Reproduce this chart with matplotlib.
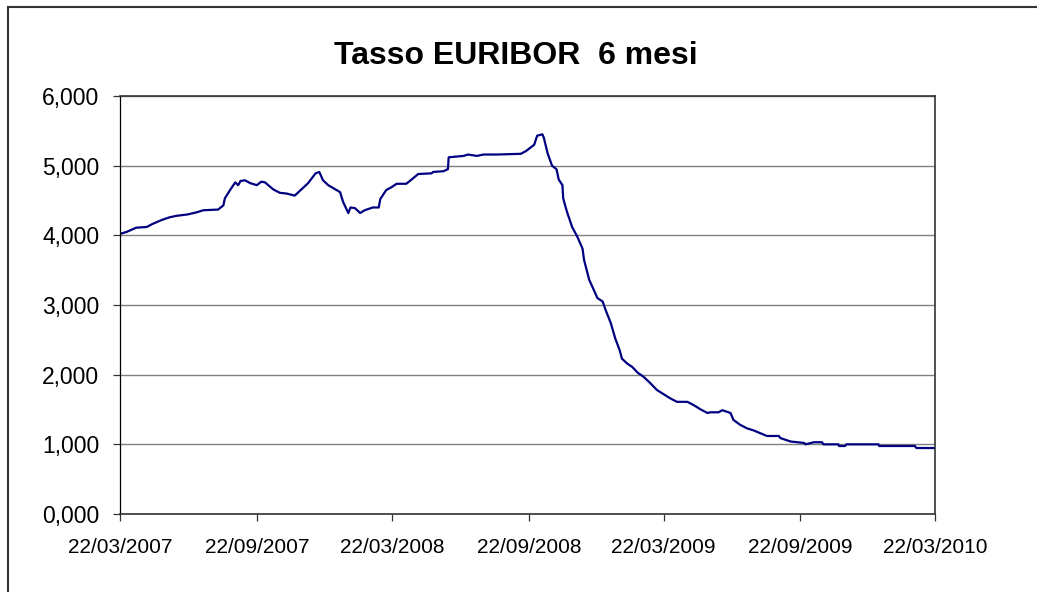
import matplotlib
matplotlib.use("Agg")
import matplotlib.pyplot as plt
import matplotlib.dates as mdates
from matplotlib.patches import Rectangle
from matplotlib.ticker import FuncFormatter, MultipleLocator
import numpy as np

plt.rcParams["font.family"] = ["Liberation Sans", "DejaVu Sans"]

# values
dates = [
    "2007-03-22", "2007-03-31", "2007-04-13", "2007-04-27", "2007-05-04",
    "2007-05-17", "2007-05-28", "2007-06-06", "2007-06-21", "2007-07-03",
    "2007-07-12", "2007-08-01", "2007-08-08", "2007-08-10", "2007-08-17",
    "2007-08-24", "2007-08-28", "2007-08-31", "2007-09-06", "2007-09-13",
    "2007-09-22", "2007-09-28", "2007-10-03", "2007-10-14", "2007-10-23",
    "2007-11-01", "2007-11-12", "2007-11-21", "2007-11-30", "2007-12-10",
    "2007-12-15", "2007-12-20", "2007-12-27", "2008-01-04", "2008-01-12",
    "2008-01-16", "2008-01-23", "2008-01-26", "2008-02-01", "2008-02-08",
    "2008-02-14", "2008-02-25", "2008-03-04", "2008-03-06", "2008-03-14",
    "2008-03-21", "2008-03-28", "2008-04-10", "2008-04-17", "2008-04-26",
    "2008-05-14", "2008-05-16", "2008-05-30", "2008-06-05", "2008-06-06",
    "2008-06-26", "2008-07-02", "2008-07-14", "2008-07-23", "2008-08-10",
    "2008-09-11", "2008-09-18", "2008-09-29", "2008-10-03", "2008-10-10",
    "2008-10-12", "2008-10-17", "2008-10-23", "2008-10-29", "2008-11-01",
    "2008-11-06", "2008-11-07", "2008-11-12", "2008-11-19", "2008-11-26",
    "2008-12-03", "2008-12-05", "2008-12-12", "2008-12-18", "2008-12-23",
    "2008-12-30", "2009-01-03", "2009-01-10", "2009-01-16", "2009-01-22",
    "2009-01-25", "2009-02-01", "2009-02-08", "2009-02-15", "2009-02-23",
    "2009-03-04", "2009-03-13", "2009-03-22", "2009-03-31", "2009-04-09",
    "2009-04-23", "2009-05-02", "2009-05-11", "2009-05-20", "2009-05-24",
    "2009-06-04", "2009-06-09", "2009-06-20", "2009-06-24", "2009-07-03",
    "2009-07-12", "2009-07-21", "2009-07-30", "2009-08-08", "2009-08-24",
    "2009-08-26", "2009-09-09", "2009-09-27", "2009-09-29", "2009-10-10",
    "2009-10-21", "2009-10-23", "2009-11-12", "2009-11-13", "2009-11-21",
    "2009-11-23", "2010-01-05", "2010-01-06", "2010-02-23", "2010-02-25",
    "2010-03-22",
]
euribor = [
    4.02, 4.05, 4.11, 4.12, 4.16,
    4.22, 4.26, 4.28, 4.30, 4.33,
    4.36, 4.37, 4.43, 4.53, 4.65,
    4.76, 4.72, 4.78, 4.79, 4.75,
    4.72, 4.77, 4.76, 4.66, 4.61,
    4.60, 4.57, 4.66, 4.75, 4.89,
    4.91, 4.79, 4.72, 4.67, 4.62,
    4.48, 4.32, 4.40, 4.39, 4.32,
    4.36, 4.40, 4.40, 4.52, 4.65,
    4.69, 4.74, 4.74, 4.80, 4.88,
    4.89, 4.91, 4.92, 4.95, 5.12,
    5.14, 5.16, 5.14, 5.16, 5.16,
    5.17, 5.21, 5.30, 5.43, 5.45,
    5.40, 5.18, 5.00, 4.95, 4.80,
    4.72, 4.53, 4.34, 4.12, 3.98,
    3.81, 3.65, 3.36, 3.22, 3.10,
    3.05, 2.93, 2.74, 2.52, 2.35,
    2.23, 2.16, 2.11, 2.03, 1.97,
    1.88, 1.78, 1.72, 1.66, 1.61,
    1.61, 1.56, 1.50, 1.45, 1.46,
    1.46, 1.49, 1.45, 1.35, 1.28,
    1.23, 1.20, 1.16, 1.12, 1.12,
    1.09, 1.04, 1.02, 1.00, 1.03,
    1.03, 1.00, 1.00, 0.976, 0.976,
    1.00, 1.00, 0.976, 0.976, 0.947,
    0.947,
]
tick_dates = ["2007-03-22", "2007-09-22", "2008-03-22", "2008-09-22",
              "2009-03-22", "2009-09-22", "2010-03-22"]

x = np.array(dates, dtype="datetime64[D]")
xt = np.array(tick_dates, dtype="datetime64[D]")

W, H = 1037, 592
fig = plt.figure(figsize=(W / 100, H / 100), dpi=100)
ax = fig.add_axes([120 / W, 1 - 514 / H, 815 / W, 418 / H])

# outer chart border (cut at right and bottom like the reference)
fig.patches.append(Rectangle((8 / W, -0.05), 1.1, 1 - 7 / H + 0.05,
                             transform=fig.transFigure, fill=False,
                             edgecolor="#333333", lw=1.5))

ax.plot(x, euribor, color="#000080", lw=1.6)

ax.set_ylim(0, 6)
ax.set_xlim(xt[0], xt[-1])
ax.yaxis.set_major_locator(MultipleLocator(1))
ax.yaxis.set_major_formatter(
    FuncFormatter(lambda v, _: f"{v:.3f}".replace(".", ",")))
ax.set_xticks(xt)
ax.xaxis.set_major_formatter(mdates.DateFormatter("%d/%m/%Y"))

ax.grid(axis="y", color="#808080", lw=1.0)
ax.set_axisbelow(True)
for s in ax.spines.values():
    s.set_color("#333333")
    s.set_linewidth(1.2)
ax.spines["left"].set_color("black")
ax.spines["left"].set_linewidth(0.9)

ax.tick_params(axis="both", direction="out", length=5, width=0.9,
               color="#333333", labelsize=15, labelcolor="black")
ax.tick_params(axis="y", pad=10, labelsize=16.5)
ax.tick_params(axis="x", pad=12)

fig.text(515.5 / W, 1 - 56 / H, "Tasso EURIBOR  6 mesi", ha="center",
         va="center", fontsize=23, fontweight="bold")

fig.savefig("out.png", dpi=100)
